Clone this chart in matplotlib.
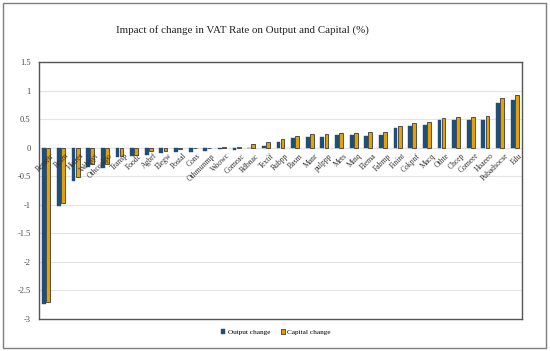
import matplotlib.pyplot as plt
import numpy as np
from matplotlib.patches import Rectangle

sectors = ['Remetr', 'Resm', 'Hinres', 'Wrhpyt', 'Othcoalpo', 'Transp', 'Foodc',
           'Agbrf', 'Elegw', 'Postal', 'Cons', 'Othmunmp', 'Woowc', 'Comeac',
           'Rdbnac', 'Textif', 'Rubpp', 'Basm', 'Manr', 'pulppp', 'Mets', 'Minq',
           'Elema', 'Fabmp', 'Finint', 'Cokpnf', 'Macq', 'Othte', 'Chcep',
           'Comeee', 'Hoaeeo', 'Pubadsocse', 'Edu']
output_change = [-2.74, -1.02, -0.59, -0.34, -0.35, -0.16, -0.15, -0.13, -0.09,
                 -0.07, -0.07, -0.05, -0.03, -0.04, 0.0, 0.03, 0.10, 0.17, 0.19,
                 0.18, 0.22, 0.23, 0.21, 0.22, 0.34, 0.38, 0.40, 0.48, 0.48,
                 0.49, 0.48, 0.78, 0.84]
capital_change = [-2.71, -0.97, -0.52, -0.28, -0.28, -0.14, -0.12, -0.06, -0.05,
                  -0.03, -0.01, -0.01, 0.01, 0.01, 0.07, 0.10, 0.16, 0.21, 0.24,
                  0.24, 0.26, 0.26, 0.27, 0.28, 0.38, 0.44, 0.45, 0.52, 0.53,
                  0.54, 0.55, 0.87, 0.92]
yticks = [1.5, 1, 0.5, 0, -0.5, -1, -1.5, -2, -2.5, -3]
ytick_labels = ['1.5', '1', '0.5', '0', '-0.5', '-1', '-1.5', '-2', '-2.5', '-3']

plt.rcParams['font.family'] = ['Liberation Serif', 'DejaVu Serif']

W, H = 550, 351
fig = plt.figure(figsize=(W / 100, H / 100), dpi=100)

# outer frame
fig.patches.append(Rectangle((3 / W, 3 / H), 543 / W, 345 / H, transform=fig.transFigure,
                             fill=False, edgecolor='#7f7f7f', linewidth=1.0))

ax = fig.add_axes([39 / W, (H - 319) / H, (522 - 39) / W, (319 - 62) / H])

x = np.arange(len(sectors))
w = 0.26
ax.bar(x - 0.14, output_change, width=w, color='#1f4e79', edgecolor='#1f4e79',
       linewidth=0.3, label='Output change', zorder=3)
ax.bar(x + 0.14, capital_change, width=w, color='#e5a100', edgecolor='#3a3a3a',
       linewidth=0.6, label='Capital change', zorder=3)

ax.set_xlim(-0.5, len(sectors) - 0.5)
ax.set_ylim(-3, 1.5)
ax.set_yticks(yticks)
ax.set_yticklabels(ytick_labels)
ax.set_xticks([])
ax.tick_params(axis='y', length=0, pad=6, labelsize=6, colors='#444444')
ax.grid(axis='y', color='#e3e3e3', linewidth=0.8, zorder=0)
ax.axhline(0, color='#d6d6d6', linewidth=0.8, zorder=1)
for s in ax.spines.values():
    s.set_color('#555555')
    s.set_linewidth(1.0)

for i, name in enumerate(sectors):
    ax.annotate(name, xy=(i, 0), xytext=(3, -3), textcoords='offset points',
                ha='right', va='top', rotation=45, rotation_mode='anchor',
                fontsize=5.5, color='#333333', zorder=4)

fig.text(242 / W, 0.915, 'Impact of change in VAT Rate on Output and Capital (%)',
         ha='center', va='center', fontsize=7.9, color='#222222')

fig.legend(loc='center', bbox_to_anchor=(276 / W, (H - 332) / H), ncol=2, frameon=False,
           fontsize=5.2, handlelength=0.6, handleheight=0.6, handletextpad=0.3,
           columnspacing=1.5)

fig.savefig('out.png', dpi=100)
